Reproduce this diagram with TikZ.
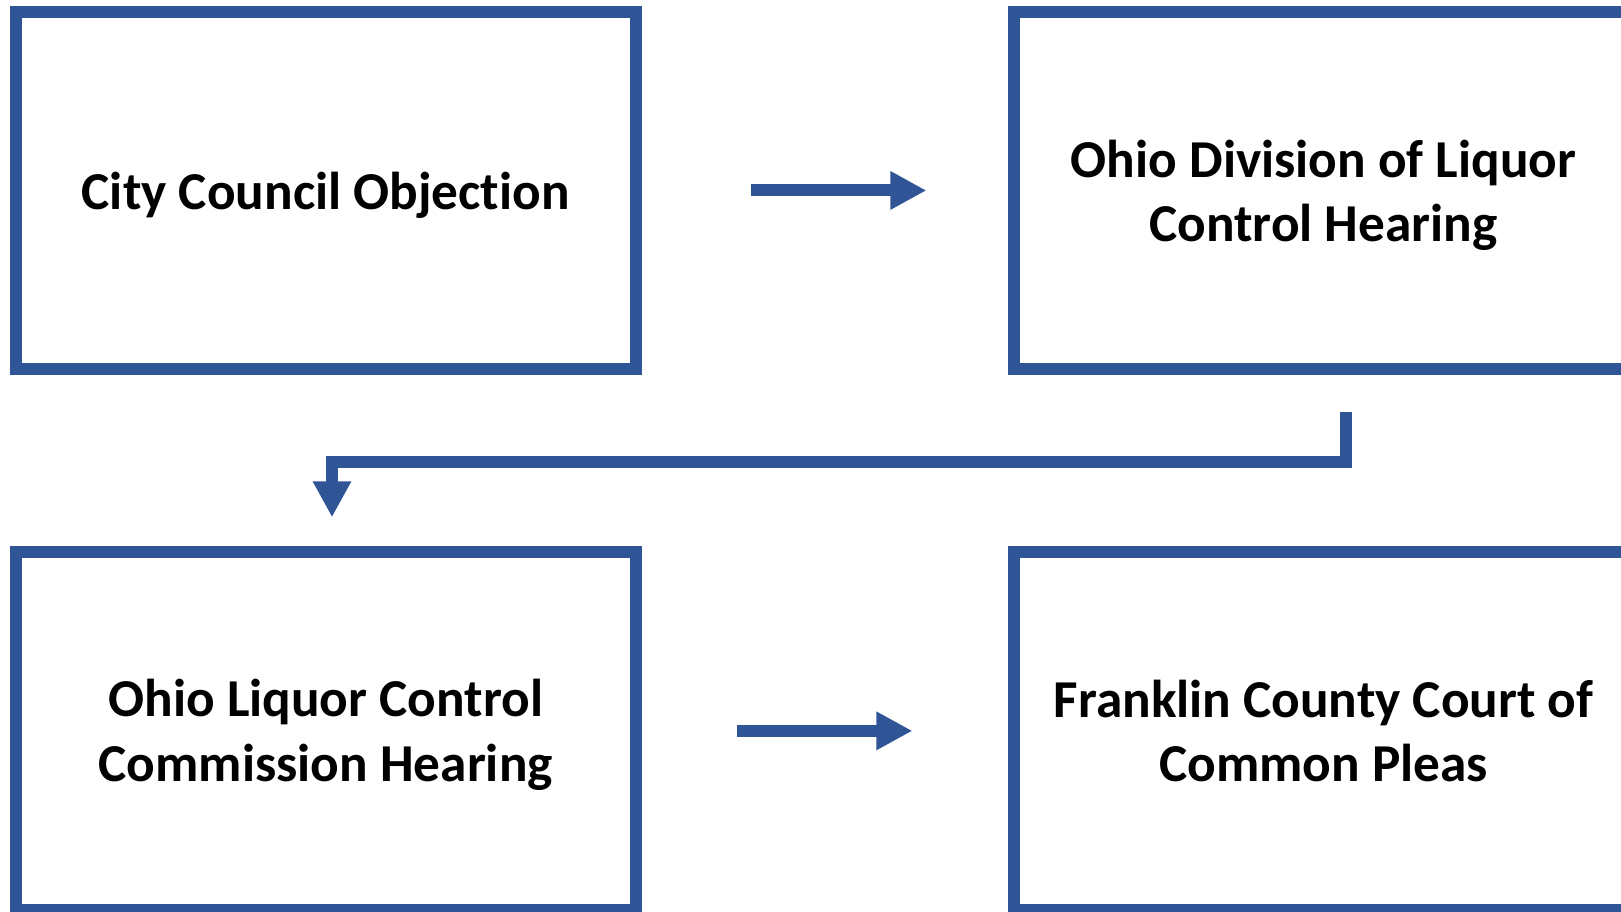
\documentclass[tikz,border=0pt]{standalone}
\usepackage{fontspec}
\setmainfont[Ligatures=NoCommon]{Carlito}
\usetikzlibrary{arrows.meta}
\definecolor{boxblue}{RGB}{47,85,151}
\begin{document}
\begin{tikzpicture}[x=1pt,y=-1pt,
  stagebox/.style={draw=boxblue, line width=12pt, rectangle,
    minimum width=619.5pt, minimum height=357.7pt, inner sep=0pt},
  stagetext/.style={align=center, inner sep=0pt,
    font=\fontsize{53.3}{64.5}\selectfont\bfseries},
  conn/.style={draw=boxblue, line width=12pt, line join=miter,
    -{Triangle[length=36pt,width=36pt]}}]
\useasboundingbox (0,0) rectangle (1621,912);
\clip (0,0) rectangle (1621,912);
\node[stagebox] (b1) at (325.75,190.45) {};
\node[stagebox] (b2) at (1323.5,190.45) {};
\node[stagebox] (b3) at (325.75,730.85) {};
\node[stagebox] (b4) at (1323.5,730.85) {};
\node[stagetext] (t1) at ([yshift=-5pt]b1.center) {City Council Objection};
\node[stagetext] (t2) at ([yshift=-5pt]b2.center) {Ohio Division of Liquor\\Control Hearing};
\node[stagetext] (t3) at ([yshift=-4pt]b3.center) {Ohio Liquor Control\\Commission Hearing};
\node[stagetext] (t4) at ([yshift=0pt]b4.center) {Franklin County Court of\\Common Pleas};
\draw[conn] ([xshift=109.5pt]b1.east) -- ([xshift=-81.3pt]b2.west);
\draw[conn] ([xshift=95.5pt]b3.east) -- ([xshift=-95.3pt]b4.west);
\coordinate (s) at ([xshift=22.2pt,yshift=-36.4pt]b2.south);
\coordinate (e) at ([xshift=6.25pt,yshift=28.7pt]b3.north);
\draw[conn] (s) -- (s |- 0,461.5) -- (e |- 0,461.5) -- (e);
\end{tikzpicture}
\end{document}
